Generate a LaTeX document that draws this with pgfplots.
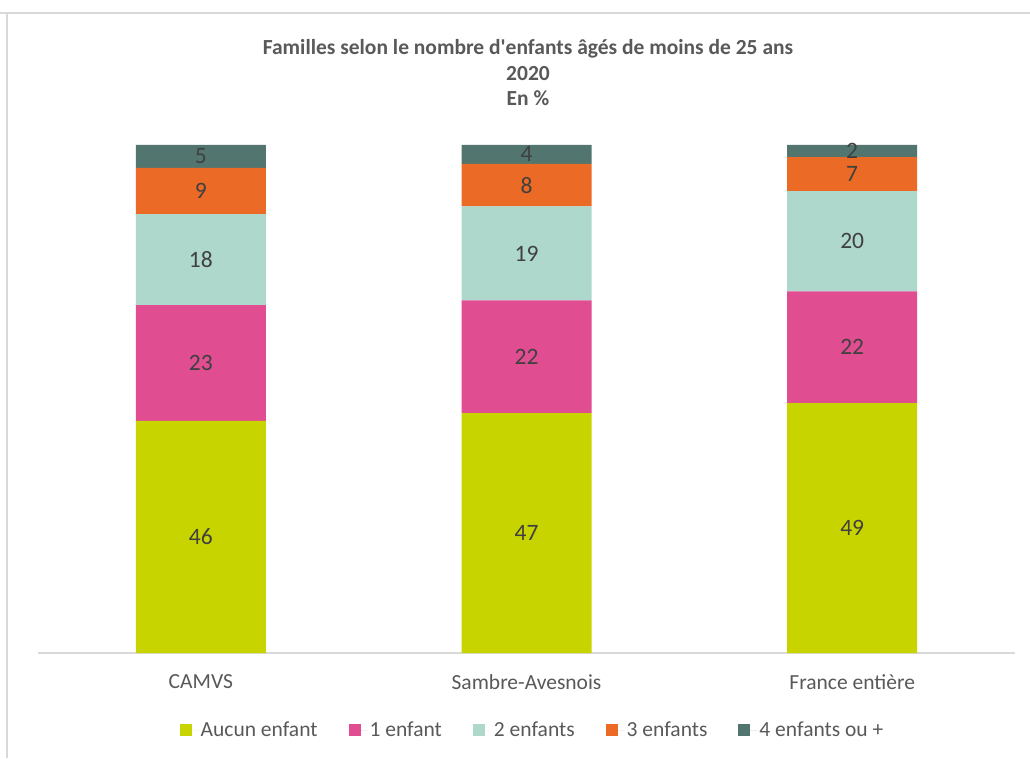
\documentclass[border=0pt]{standalone}
\usepackage{pgfplots}
\pgfplotsset{compat=1.18}
\usepackage{fontspec}
\setmainfont{Carlito}
\definecolor{cA}{HTML}{C8D400}
\definecolor{cB}{HTML}{E04E91}
\definecolor{cC}{HTML}{ADD8CB}
\definecolor{cD}{HTML}{EB6A25}
\definecolor{cE}{HTML}{52756F}
\definecolor{txt}{HTML}{595959}
\definecolor{lab}{HTML}{404040}
\definecolor{frame}{HTML}{D9D9D9}
\begin{document}
\begin{tikzpicture}[x=1pt,y=1pt]
\useasboundingbox (0,0) rectangle (1030,758);
\fill[white] (0,0) rectangle (1030,758);
\draw[frame, line width=1.5pt] (0,745) -- (1030,745);
\draw[frame, line width=1.5pt] (7,745) -- (7,0);
\node[align=center, text=txt, font=\bfseries\fontsize{21.5}{25.5}\selectfont] at (528,685) {Familles selon le nombre d\textquotesingle enfants âgés de moins de 25 ans\\2020\\En \%};
\begin{axis}[
  at={(38pt,105pt)}, anchor=south west,
  scale only axis, width=977pt, height=508pt,
  xmin=-0.5, xmax=2.5, ymin=0, ymax=100,
  ybar stacked, bar width=130pt,
  axis y line=none, axis x line*=bottom,
  x axis line style={frame, line width=1.5pt, -},
  xtick={0,1,2}, xticklabels={CAMVS,Sambre-Avesnois,France entière},
  major tick length=0pt,
  xticklabel style={font=\fontsize{21.5}{25}\selectfont, text=txt, anchor=center, yshift=-29pt},
  ytick=\empty,
  /pgf/number format/assume math mode=true,
  visualization depends on=rawy \as \rawy,
  nodes near coords={\pgfmathprintnumber[fixed,precision=0]{\rawy}},
  every node near coord/.append style={anchor=center, font=\fontsize{23.5}{27}\selectfont, text=lab},
  legend style={at={(0.5,0)}, anchor=center, yshift=-77pt, xshift=6pt, draw=none, fill=none,
    legend columns=5, font=\fontsize{21.5}{25}\selectfont, text=txt,
    /tikz/every even column/.append style={column sep=29pt}},
  legend image code/.code={\fill[#1] (0pt,-6pt) rectangle (12pt,6pt); \path (0pt,0pt) -- (19pt,0pt);},
]
\addplot[fill=cA, draw=none] coordinates {(0,45.7) (1,47.2) (2,49.2)};
\addplot[fill=cB, draw=none] coordinates {(0,22.8) (1,22.2) (2,22.0)};
\addplot[fill=cC, draw=none] coordinates {(0,17.9) (1,18.5) (2,19.7)};
\addplot[fill=cD, draw=none] coordinates {(0,9.1) (1,8.4) (2,6.7)};
\addplot[fill=cE, draw=none] coordinates {(0,4.5) (1,3.7) (2,2.4)};
\legend{Aucun enfant, 1 enfant, 2 enfants, 3 enfants, 4 enfants ou +}
\end{axis}
\end{tikzpicture}
\end{document}
